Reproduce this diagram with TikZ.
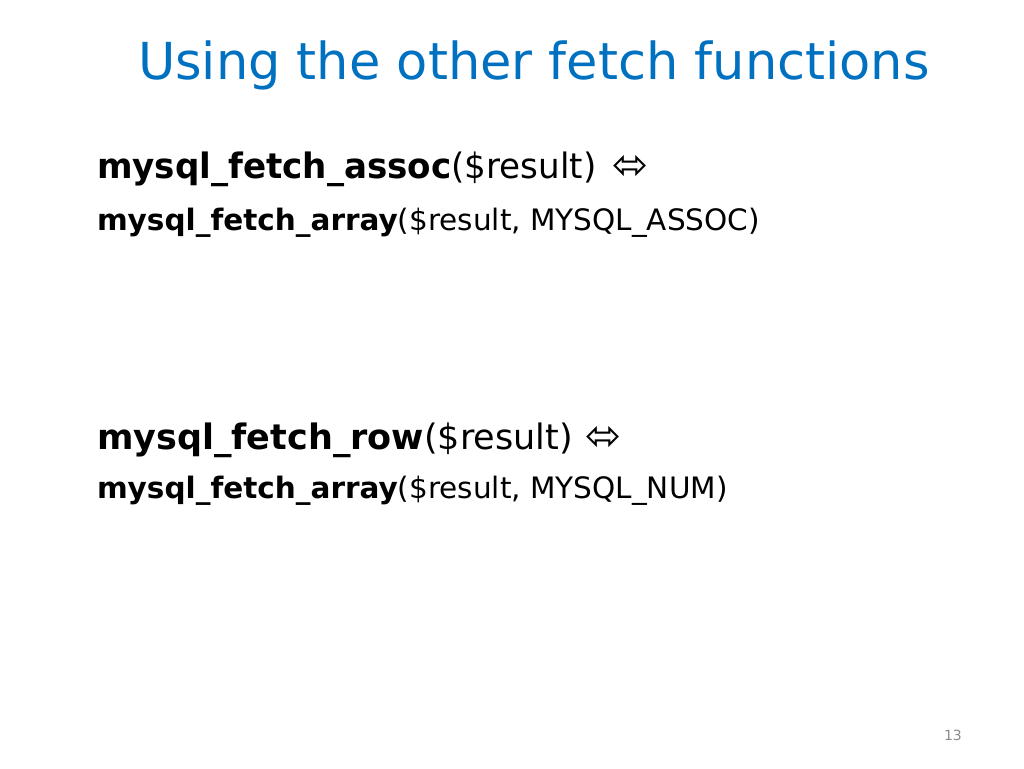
\documentclass[tikz,border=0pt]{standalone}
\usepackage{fontspec}
\setmainfont{DejaVu Sans}
\newfontfamily\symfont{DejaVu Sans}
\definecolor{titleblue}{RGB}{0,112,192}
\definecolor{pagegray}{RGB}{140,140,140}
\begin{document}
\begin{tikzpicture}[x=1pt,y=1pt,
  txt/.style={anchor=base west,inner sep=0pt,outer sep=0pt},
  big/.style={txt,font=\fontsize{35}{38}\selectfont},
  small/.style={txt,font=\fontsize{29.5}{32}\selectfont},
  equiv/.style={anchor=center,inner sep=0pt,outer sep=0pt,font=\symfont\fontsize{43}{43}\selectfont}]
\useasboundingbox (0,0) rectangle (1024,768);
\fill[white] (0,0) rectangle (1024,768);
\node[txt,font=\fontsize{51}{56}\selectfont,text=titleblue] (title) at (138,688) {Using the other fetch functions};
\node[big] (l1) at (97,589) {\scalebox{0.975}[1]{\textbf{mysql\_fetch\_assoc}(\$result)}};
\node[equiv] (e1) at (631,600.5) {⬄};
\node[small] (l2) at (97,537) {\textbf{mysql\_fetch\_array}(\$result, MYSQL\_ASSOC)};
\node[big] (l3) at (97,318) {\textbf{mysql\_fetch\_row}(\$result)};
\node[equiv] (e3) at (604,330) {⬄};
\node[small] (l4) at (97,269) {\textbf{mysql\_fetch\_array}(\$result, MYSQL\_NUM)};
\node[anchor=base east,inner sep=0pt,text=pagegray,font=\fontsize{14}{16}\selectfont] (pg) at (962,28) {13};
\end{tikzpicture}
\end{document}
